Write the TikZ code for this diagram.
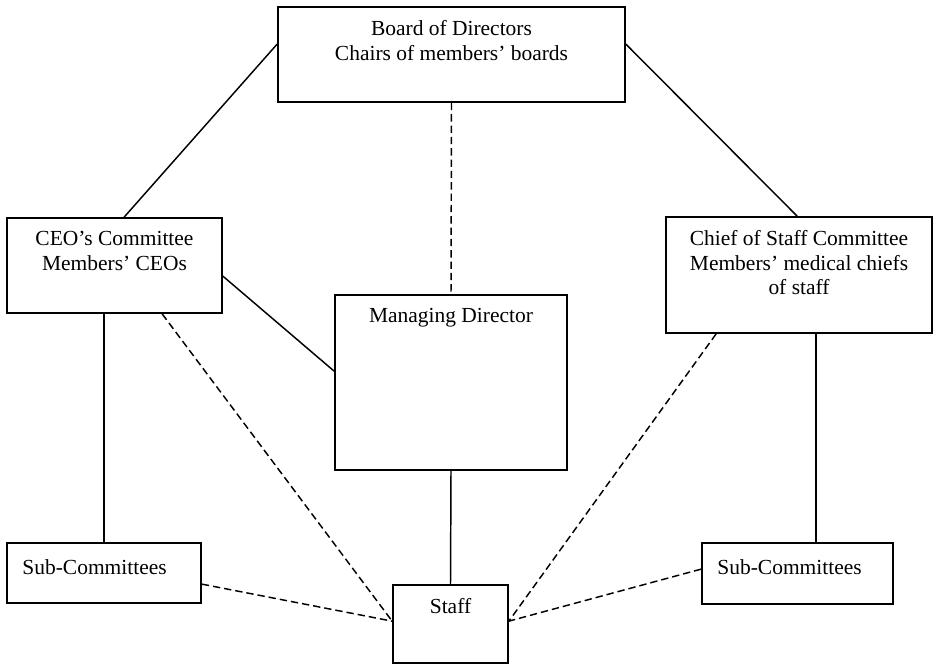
\documentclass[tikz,border=0pt]{standalone}
\usepackage{fontspec}
\setmainfont{Liberation Serif}
\usetikzlibrary{calc,fit}
\begin{document}
\begin{tikzpicture}[x=0.75pt,y=-0.75pt,
  box/.style={draw,line width=1.3pt,inner sep=0pt,rectangle},
  txt/.style={inner sep=0pt,anchor=north,align=center,font=\fontsize{16.1pt}{18.4pt}\selectfont},
  solidlink/.style={line width=1.1pt},
  dashlink/.style={line width=1.1pt,dash pattern=on 5.5pt off 3pt}]
\useasboundingbox (0,0) rectangle (939,664);

% boxes
\node[box,fit={(278,7) (625,102)}] (board) {};
\node[box,fit={(7,218) (222,313)}] (ceo) {};
\node[box,fit={(666,217) (932,333)}] (chief) {};
\node[box,fit={(335,295) (567,470)}] (md) {};
\node[box,fit={(7,543) (201,603)}] (subl) {};
\node[box,fit={(702,543) (893,604)}] (subr) {};
\node[box,fit={(393,585) (508,663)}] (staff) {};

% labels, set near the top of each box
\node[txt] (boardt) at ($(board.north)+(0,14)$) {Board of Directors\\Chairs of members’ boards};
\node[txt] (ceot) at ($(ceo.north)+(0,14)$) {CEO’s Committee\\Members’ CEOs};
\node[txt] (chieft) at ($(chief.north)+(0,14)$) {Chief of Staff Committee\\Members’ medical chiefs\\of staff};
\node[txt] (mdt) at ($(md.north)+(0,14)$) {Managing Director};
\node[txt,anchor=north west] (sublt) at ($(subl.north west)+(16,17)$) {Sub-Committees};
\node[txt,anchor=north west] (subrt) at ($(subr.north west)+(16,17)$) {Sub-Committees};
\node[txt] (stafft) at ($(staff.north)+(0,14)$) {Staff};

% meeting points on the sides of the staff box
\coordinate (staffL) at ($(staff.north west)+(0,37)$);
\coordinate (staffR) at ($(staff.north east)+(0,37)$);

% solid reporting lines
\draw[solidlink] ($(board.north west)+(0,38)$) -- ($(ceo.north west)+(118,0)$);
\draw[solidlink] ($(board.north east)+(0,38)$) -- ($(chief.north west)+(132,0)$);
\draw[solidlink] ($(ceo.north east)+(0,59)$) -- ($(md.north west)+(0,77)$);
\draw[solidlink] ($(ceo.south west)+(98,0)$) -- ($(subl.north west)+(98,0)$);
\draw[solidlink] (md.south) -- (staff.north);
\draw[solidlink] ($(chief.south west)+(151,0)$) -- ($(subr.north west)+(115,0)$);

% dashed support lines
\draw[dashlink] (board.south) -- (md.north);
\draw[dashlink] ($(ceo.south west)+(156,0)$) -- (staffL);
\draw[dashlink] ($(subl.north east)+(0,42)$) -- (staffL);
\draw[dashlink] ($(chief.south west)+(51,0)$) -- (staffR);
\draw[dashlink] ($(subr.north west)+(0,27)$) -- (staffR);
\end{tikzpicture}
\end{document}
